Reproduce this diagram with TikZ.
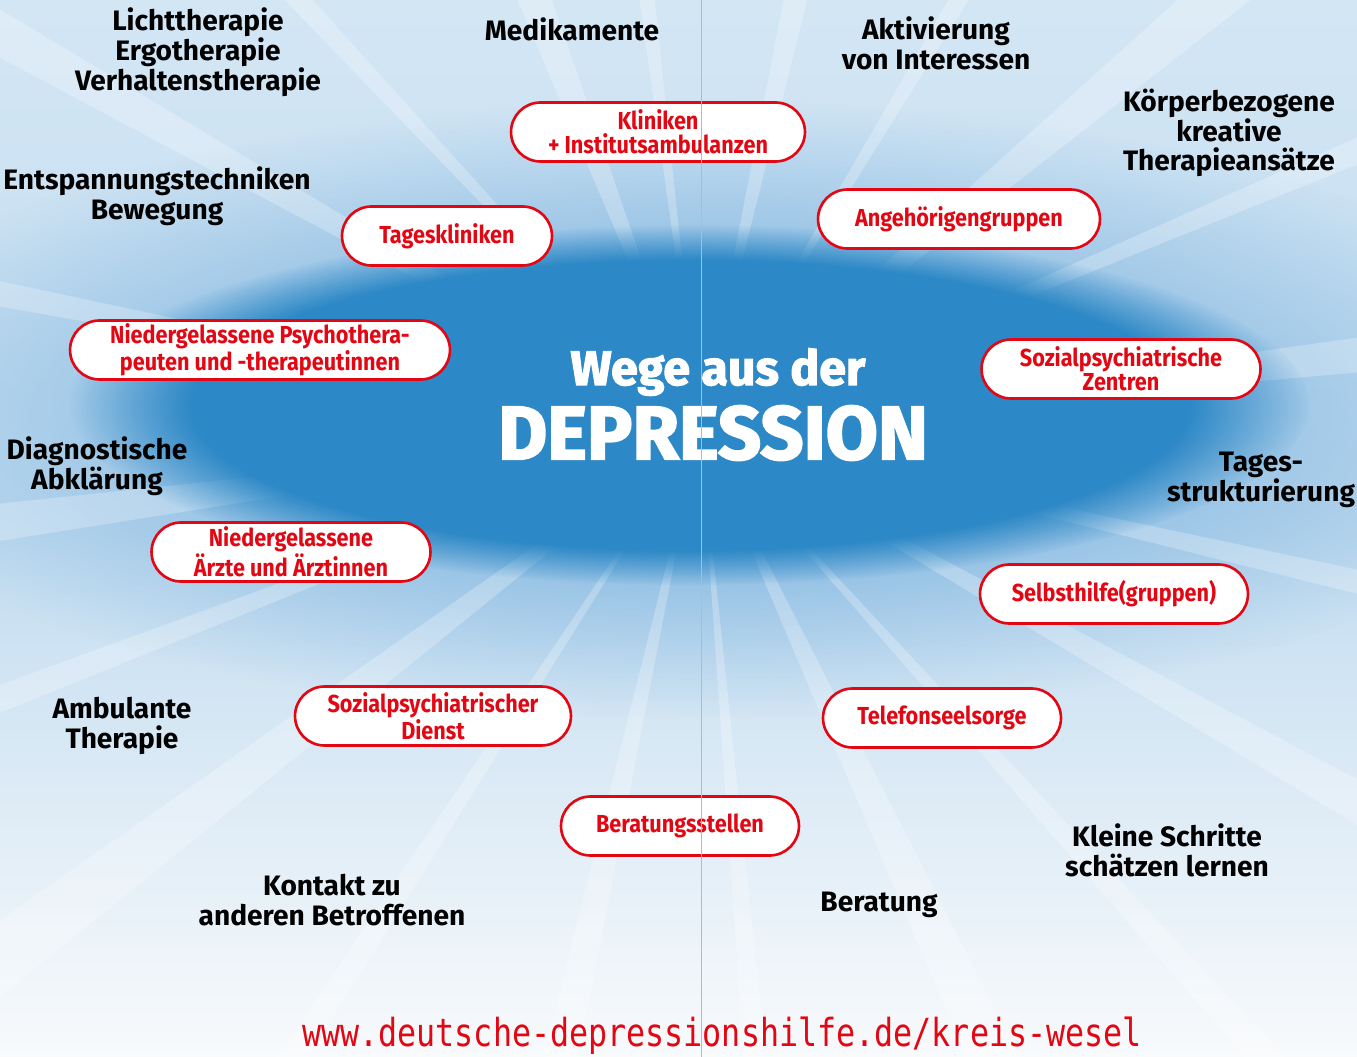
\documentclass[tikz,border=0pt]{standalone}
\usepackage{fontspec}
\setmainfont{Fira Sans}
\newfontfamily\pillfont{Fira Sans}[FakeStretch=0.88]
\newfontfamily\titlefont{Fira Sans}[BoldFeatures={FakeBold=2.5}]
\newfontfamily\urlfont{DejaVu Sans Mono}[FakeStretch=0.82]
\usepackage{tikz}
\usetikzlibrary{shapes.misc,fadings}

\definecolor{dred}{HTML}{E30613}
\definecolor{deepblue}{HTML}{2C88C6}
\definecolor{midblue}{HTML}{5FA2D8}
\definecolor{paleblue}{HTML}{D3E6F4}
\definecolor{nearwhite}{HTML}{F8FAFC}

\tikzfading[name=softblob, inner color=transparent!0, outer color=transparent!100]

\begin{document}
\begin{tikzpicture}[
    x=0.02cm, y=-0.02cm,
    pill/.style={rounded rectangle, draw=dred, fill=white, line width=1.5pt,
                 minimum height=1.18cm, inner sep=0pt, align=center, text=dred,
                 font=\pillfont\bfseries\fontsize{14}{13.5}\selectfont},
    label/.style={align=center, text=black, inner sep=0pt,
                  font=\bfseries\fontsize{16}{17}\selectfont},
    ray/.style={white, opacity=0.25}
]
\useasboundingbox (0,0) rectangle (1357,1057);

% Background
\shade[top color=paleblue, bottom color=nearwhite, middle color=paleblue!85!midblue]
    (0,0) rectangle (1357,1057);
\fill[midblue, path fading=softblob] (700,410) ellipse (900 and 310);

% Light rays
\coordinate (hub) at (700,430);
\foreach \a/\w in {12/2, 28/3, 47/2, 63/4, 84/2, 101/3, 122/2, 141/4, 158/2, 171/3,
                   190/2, 208/3, 226/2, 247/4, 262/2, 281/3, 300/2, 318/4, 336/2, 352/3}
    \fill[ray] (hub) -- +(\a:1300) -- +(\a+\w:1300) -- cycle;

\fill[deepblue, path fading=circle with fuzzy edge 20 percent] (690,405) ellipse (620 and 180);

% Title
\node[text=white, font=\titlefont\bfseries\fontsize{27.5}{27.5}\selectfont] (wege) at (718,372) {Wege aus der};
\node[text=white, font=\titlefont\bfseries\fontsize{43}{43}\selectfont] (depression) at (713,433) {DEPRESSION};

% Red pills
\node[pill, minimum width=5.88cm] (kliniken) at (658,132) {Kliniken\\+ Institutsambulanzen};
\node[pill, minimum width=4.2cm] (tageskliniken) at (447,236) {Tageskliniken};
\node[pill, minimum width=5.64cm] (angehoerige) at (959,219) {Angehörigengruppen};
\node[pill, minimum width=7.6cm] (psychotherapeuten) at (260,350) {Niedergelassene Psychothera-\\peuten und -therapeutinnen};
\node[pill, minimum width=5.58cm] (zentren) at (1121,369) {Sozialpsychiatrische\\Zentren};
\node[pill, minimum width=5.58cm] (aerzte) at (291,552) {Niedergelassene\\Ärzte und Ärztinnen};
\node[pill, minimum width=5.36cm] (selbsthilfe) at (1114,594) {Selbsthilfe(gruppen)};
\node[pill, minimum width=5.52cm] (dienst) at (433,716) {Sozialpsychiatrischer\\Dienst};
\node[pill, minimum width=4.76cm] (telefon) at (942,718) {Telefonseelsorge};
\node[pill, minimum width=4.76cm] (beratungsstellen) at (680,826) {Beratungsstellen};

% Black labels
\node[label] (therapien) at (198,52) {Lichttherapie\\Ergotherapie\\Verhaltenstherapie};
\node[label] (medikamente) at (572,29) {Medikamente};
\node[label] (aktivierung) at (936,43) {Aktivierung\\von Interessen};
\node[label] (koerper) at (1229,133) {Körperbezogene\\kreative\\Therapieansätze};
\node[label] (entspannung) at (157,196) {Entspannungstechniken\\Bewegung};
\node[label] (diagnostik) at (97,466) {Diagnostische\\Abklärung};
\node[label] (tagesstruktur) at (1261,480) {Tages-\\strukturierung};
\node[label] (ambulant) at (122,726) {Ambulante\\Therapie};
\node[label] (schritte) at (1167,850) {Kleine Schritte\\schätzen lernen};
\node[label] (kontakt) at (332,900) {Kontakt zu\\anderen Betroffenen};
\node[label] (beratung) at (879,905) {Beratung};

% Web address
\node[text=dred, font=\urlfont\fontsize{22}{22}\selectfont] (url) at (722,1036) {www.deutsche-depressionshilfe.de/kreis-wesel};

% Fold line
\coordinate (foldtop) at (701,0);
\coordinate (foldbottom) at (701,1057);
\draw[gray!55, line width=0.5pt] (foldtop) -- (foldbottom);

\end{tikzpicture}
\end{document}
